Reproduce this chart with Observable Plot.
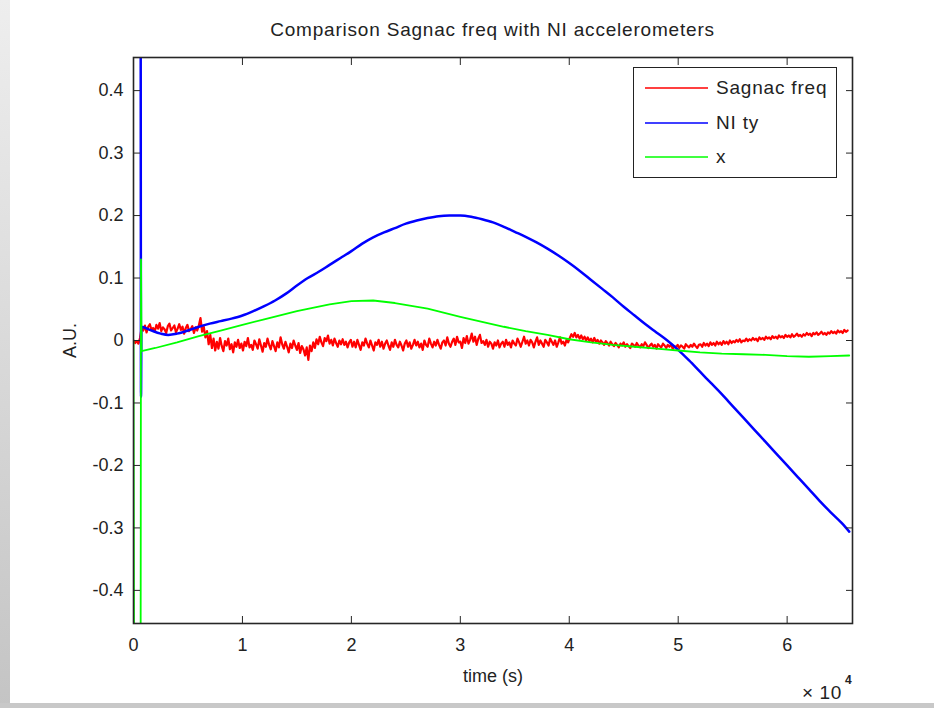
<!DOCTYPE html>
<html><head><meta charset="utf-8">
<script src="https://cdn.jsdelivr.net/npm/d3@7"></script>
<script src="https://cdn.jsdelivr.net/npm/@observablehq/plot@0.6"></script>
<style>
body{margin:0;background:#fff;}
#wrap{position:relative;width:934px;height:708px;overflow:hidden;background:#fff;font-family:"Liberation Sans",Arial,sans-serif;color:#222;}
#chart{position:absolute;left:0;top:0;}
#lbar{position:absolute;left:0;top:0;width:10px;height:708px;background:linear-gradient(#eeeeee,#c4c4c4);}
#bbar{position:absolute;left:0;top:703px;width:934px;height:5px;background:#c8c8c8;}
#title{position:absolute;top:19px;left:133px;width:719px;text-align:center;font-size:19px;letter-spacing:0.8px;white-space:nowrap;}
#exp{position:absolute;left:802px;top:681px;font-size:19px;letter-spacing:0.6px;white-space:nowrap;}
#exp sup{font-size:12px;font-weight:bold;position:relative;top:-8px;margin-left:3px;}
#legend{position:absolute;left:633px;top:67px;width:202px;height:109px;border:1.6px solid #222;background:#fff;}
.row{position:absolute;left:0;height:24px;font-size:19px;letter-spacing:0.8px;white-space:nowrap;}
.row svg{position:absolute;left:11px;top:0;}
.row span{position:absolute;left:82px;top:0;line-height:24px;}
</style></head>
<body>
<div id="wrap">
  <div id="chart"></div>
  <div id="lbar"></div>
  <div id="bbar"></div>
  <div id="title">Comparison Sagnac freq with NI accelerometers</div>
  <div id="exp">× 10<sup>4</sup></div>
  <div id="legend"></div>
</div>
<script>
// ---- data ----
const sagnacStart = 0;      // s
const sagnacStep = 150;     // s between samples
// Sagnac freq, in thousandths of A.U.
const sagnacMilli = [
 0,-4,-1,-5,4,21,16,24,13,22,
 26,17,20,14,25,19,28,15,21,18,
 12,23,27,16,20,24,13,19,26,17,
 22,11,20,25,15,18,23,12,21,16,
 24,36,14,22,5,15,-6,9,-12,3,
 -16,-2,-13,4,-9,-17,-1,-8,3,-14,
 -6,-19,-3,-10,1,-12,-5,-16,-2,-9,
 4,-11,-7,-15,0,-6,-13,2,-8,-18,
 -4,-10,3,-7,-14,-1,-9,-17,-3,-11,
 5,-6,-13,-2,-10,-19,-5,-12,0,-8,
 -15,-4,-20,-9,-14,-24,-11,-31,-8,-17,
 -3,-12,2,-6,6,-3,-9,4,-1,8,
 -5,1,-8,3,-4,-10,0,-6,2,-7,
 -2,-11,-3,1,-10,-2,-11,1,-7,-15,
 -3,-8,3,-5,-11,0,-8,-16,-3,-7,
 1,-10,-2,-13,-5,0,-8,-15,-3,-10,
 1,-7,-11,-2,-8,-16,-5,0,-10,-3,
 -13,-7,1,-8,-2,-11,-5,-15,0,-7,
 -10,3,-5,-11,-2,-8,1,-7,-13,-3,
 0,-8,5,-5,-10,-2,3,-7,6,-3,
 -2,-12,4,-4,7,-5,1,11,-2,6,
 -7,3,9,-4,-1,-7,1,-10,-2,-5,
 -13,-3,-8,0,-11,-5,-2,-10,1,-7,
 -3,-11,0,-5,-8,3,-3,-10,-2,6,
 -5,0,-8,1,-3,-11,-2,5,-7,0,
 -5,-10,1,-3,-8,3,-2,-7,0,-10,
 -3,5,-5,-2,-8,1,-3,4,10,6,
 12,5,9,3,8,2,6,0,5,-1,
 3,-3,4,-2,1,-5,0,-3,-7,-1,
 -4,-8,-2,-6,-9,-4,-7,-11,-5,-8,
 -3,-10,-6,-9,-12,-5,-7,-10,-4,-8,
 -11,-6,-9,-3,-7,-12,-8,-5,-10,-7,
 -13,-6,-9,-11,-5,-8,-12,-7,-10,-6,
 -14,-9,-11,-7,-12,-8,-10,-13,-6,-9,
 -11,-7,-10,-5,-9,-12,-7,-6,-10,-4,
 -8,-5,-9,-3,-7,-4,-8,-2,-6,-3,
 -7,-1,-5,-2,-6,0,-4,-1,-3,1,
 -2,2,-3,0,-1,3,-1,2,0,4,
 1,3,-1,5,2,4,1,6,3,5,
 2,7,4,6,3,8,5,7,4,9,
 6,8,5,10,6,8,11,7,9,6,
 10,8,12,9,11,7,12,10,13,9,
 11,14,10,12,9,13,11,15,12,14,
 11,16,13,15,12,17,14,16
];

const niTyTime = [0,650,690,730,1500,2500,3200,4000,5000,6000,7000,8000,9000,10000,11000,12000,13000,14000,15000,16000,17000,18000,19000,20000,21000,22000,23000,24000,25000,26000,27000,28000,29000,30000,31000,32000,33000,34000,35000,36000,37000,38000,39000,40000,41000,42000,43000,44000,45000,46000,47000,48000,49000,50000,51000,52000,53000,54000,55000,56000,57000,58000,59000,60000,61000,62000,63000,64000,65000,65700];
const niTyValues = [0.6,0.6,-0.09,0.022,0.017,0.011,0.009,0.011,0.016,0.022,0.027,0.031,0.035,0.040,0.047,0.055,0.064,0.075,0.088,0.100,0.110,0.121,0.132,0.143,0.155,0.165,0.173,0.180,0.187,0.192,0.196,0.199,0.200,0.200,0.198,0.194,0.189,0.182,0.174,0.166,0.157,0.147,0.136,0.124,0.111,0.097,0.083,0.069,0.054,0.040,0.026,0.013,0.000,-0.015,-0.032,-0.050,-0.068,-0.086,-0.105,-0.124,-0.143,-0.162,-0.181,-0.200,-0.219,-0.238,-0.257,-0.275,-0.292,-0.306];

const xTime = [0,60,650,690,740,2000,4000,6000,8000,10000,12000,15000,18000,20000,22000,24000,27000,30000,32000,34000,36000,38000,40000,42000,44000,46000,48000,50000,52000,54000,56000,58000,60000,62000,64000,65700];
const xValues = [0.0,-0.6,-0.6,0.13,-0.017,-0.012,-0.003,0.007,0.016,0.025,0.034,0.047,0.058,0.063,0.064,0.060,0.051,0.038,0.030,0.022,0.015,0.009,0.002,-0.003,-0.007,-0.010,-0.013,-0.016,-0.019,-0.021,-0.022,-0.023,-0.025,-0.026,-0.025,-0.024];

const xTicks = [0,10000,20000,30000,40000,50000,60000];
const yTicks = [-0.4,-0.3,-0.2,-0.1,0,0.1,0.2,0.3,0.4];
const seriesNames = ["Sagnac freq","NI ty","x"];
const seriesColors = ["#ff0000","#0000ff","#00ff00"];

// ---- build tables ----
const sagnacData = sagnacMilli.map((m,i)=>({t: sagnacStart + i*sagnacStep, v: m/1000}));
const niData = niTyTime.map((t,i)=>({t, v: niTyValues[i]}));
const xData = xTime.map((t,i)=>({t, v: xValues[i]}));

const fmtY = d => Math.abs(d) < 1e-9 ? "0" : d.toFixed(1);
const tickCol = "#262626";

const chart = Plot.plot({
  width: 934, height: 708,
  marginLeft: 133, marginRight: 82, marginTop: 57, marginBottom: 85,
  style: {fontFamily: "Liberation Sans, Arial, sans-serif", fontSize: "18px", color: "#222", background: "transparent"},
  x: {domain: [0, 66000]},
  y: {domain: [-0.453, 0.453]},
  marks: [
    Plot.line(sagnacData, {x: "t", y: "v", stroke: seriesColors[0], strokeWidth: 2.2, clip: true}),
    Plot.line(niData, {x: "t", y: "v", stroke: seriesColors[1], strokeWidth: 2.5, clip: true, curve: "monotone-x"}),
    Plot.line(xData, {x: "t", y: "v", stroke: seriesColors[2], strokeWidth: 1.8, clip: true}),
    // labels
    Plot.axisX({anchor: "bottom", ticks: xTicks, tickSize: 0, tickPadding: 15, tickFormat: d => String(d/10000),
      label: "time (s)", labelAnchor: "center", labelArrow: "none", labelOffset: 58}),
    Plot.axisY({anchor: "left", ticks: yTicks, tickSize: 0, tickPadding: 10, tickFormat: fmtY,
      label: "A.U.", labelAnchor: "center", labelArrow: "none", labelOffset: 70}),
    // inward ticks on all four sides
    Plot.axisX({anchor: "bottom", ticks: xTicks, tickSize: -7, tickFormat: () => "", label: null, stroke: tickCol}),
    Plot.axisX({anchor: "top", ticks: xTicks, tickSize: -7, tickFormat: () => "", label: null, stroke: tickCol}),
    Plot.axisY({anchor: "left", ticks: yTicks, tickSize: -7, tickFormat: () => "", label: null, stroke: tickCol}),
    Plot.axisY({anchor: "right", ticks: yTicks, tickSize: -7, tickFormat: () => "", label: null, stroke: tickCol}),
    Plot.frame({stroke: tickCol, strokeWidth: 1.6})
  ]
});
document.getElementById("chart").appendChild(chart);

// ---- legend ----
const legend = document.getElementById("legend");
const rowTops = [8, 43, 77];
seriesNames.forEach((name, i) => {
  const row = document.createElement("div");
  row.className = "row";
  row.style.top = rowTops[i] + "px";
  row.innerHTML = `<svg width="64" height="24"><line x1="0" x2="63" y1="12" y2="12" stroke="${seriesColors[i]}" stroke-width="1.6"/></svg><span>${name}</span>`;
  legend.appendChild(row);
});
</script>
</body></html>
